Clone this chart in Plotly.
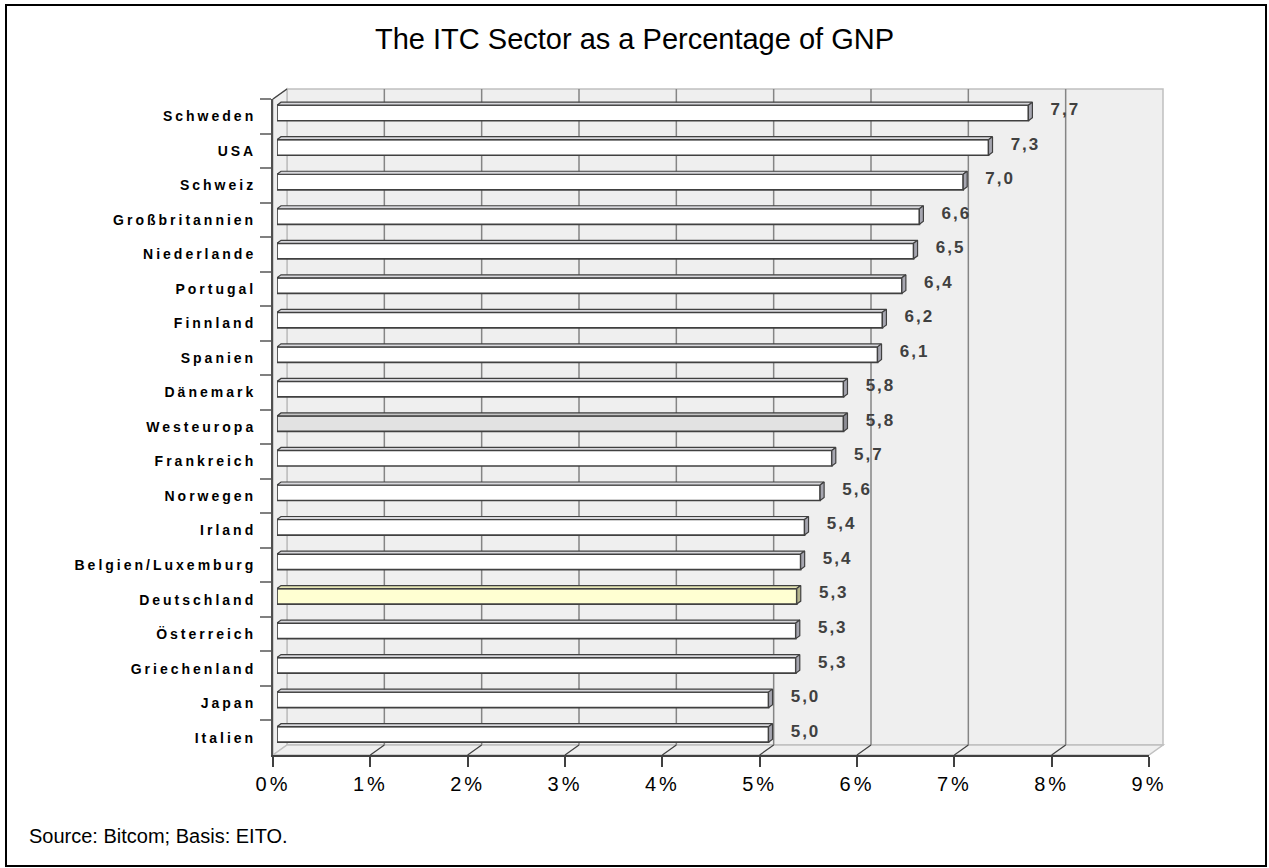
import plotly.graph_objects as go

# ---------------- data ----------------
categories = ["Schweden", "USA", "Schweiz", "Großbritannien", "Niederlande", "Portugal",
              "Finnland", "Spanien", "Dänemark", "Westeuropa", "Frankreich", "Norwegen",
              "Irland", "Belgien/Luxemburg", "Deutschland", "Österreich", "Griechenland",
              "Japan", "Italien"]
values = [7.72, 7.31, 7.05, 6.60, 6.54, 6.42, 6.22, 6.17, 5.82, 5.82, 5.70, 5.58,
          5.42, 5.38, 5.34, 5.33, 5.33, 5.05, 5.05]
value_labels = ["7,7", "7,3", "7,0", "6,6", "6,5", "6,4", "6,2", "6,1", "5,8", "5,8",
                "5,7", "5,6", "5,4", "5,4", "5,3", "5,3", "5,3", "5,0", "5,0"]
x_ticks = list(range(10))
x_tick_labels = [f"{k}%" for k in x_ticks]
title_text = "The ITC Sector as a Percentage of GNP"
source_text = "Source: Bitcom; Basis: EITO."

# ---------------- geometry / style ----------------
W, H = 1269, 868
FL, FR, FT, FB = 273, 1149, 99, 755      # front box
DX, DY = 14, 10                          # wall depth
BSX, BSY = 4, 3.3                        # bar front-plane shift
BDX, BDY = 4, 3                          # bar depth
FONT = "Liberation Sans, Arial, sans-serif"
WALL = "#efefef"
EDGE = "#c0c0c0"
GRID = "#858585"
DARK = "#404040"

def fx(p):
    return p / W

def fy(p):
    return 1 - p / H

n = len(categories)
pos = list(range(n))
xmax = x_ticks[-1]
ppu = (FR - FL) / xmax
ppc = (FB - FT) / n
half = 0.225

face_colors = []
top_colors = []
side_colors = []
for c in categories:
    if c == "Westeuropa":
        face_colors.append("#e2e2e2"); top_colors.append("#c4c4c4"); side_colors.append("#8e8e96")
    elif c == "Deutschland":
        face_colors.append("#ffffd2"); top_colors.append("#e6e6b4"); side_colors.append("#b4b48c")
    else:
        face_colors.append("#ffffff"); top_colors.append("#d8d8dc"); side_colors.append("#a6a6b0")

fig = go.Figure()

# invisible trace to establish the front category axis
fig.add_trace(go.Scatter(x=[0] * n, y=categories, mode="markers", marker=dict(opacity=0),
                         hoverinfo="skip", showlegend=False, xaxis="x", yaxis="y"))

# bars (front faces)
fig.add_trace(go.Bar(x=values, y=pos, orientation="h", width=2 * half,
                     marker=dict(color=face_colors, line=dict(color=DARK, width=1.7)),
                     hoverinfo="skip", showlegend=False, xaxis="x2", yaxis="y2"))

# 3D top and side faces
ddx = BDX / ppu
ddy = BDY / ppc
for v, p, tc, sc in zip(values, pos, top_colors, side_colors):
    top_x = [0, v, v + ddx, ddx, 0]
    top_y = [p - half, p - half, p - half - ddy, p - half - ddy, p - half]
    fig.add_trace(go.Scatter(x=top_x, y=top_y, mode="lines", fill="toself", fillcolor=tc,
                             line=dict(color=DARK, width=1.2), hoverinfo="skip",
                             showlegend=False, xaxis="x2", yaxis="y2"))
    side_x = [v, v, v + ddx, v + ddx, v]
    side_y = [p - half, p + half, p + half - ddy, p - half - ddy, p - half]
    fig.add_trace(go.Scatter(x=side_x, y=side_y, mode="lines", fill="toself", fillcolor=sc,
                             line=dict(color=DARK, width=1.2), hoverinfo="skip",
                             showlegend=False, xaxis="x2", yaxis="y2"))

# value labels
fig.add_trace(go.Scatter(x=[v + 0.38 for v in values], y=[p - 0.06 for p in pos],
                         mode="text", text=value_labels, textposition="middle center",
                         textfont=dict(family=FONT, size=17, color=DARK, weight="bold"),
                         hoverinfo="skip", showlegend=False, xaxis="x2", yaxis="y2"))

shapes = []
# walls
shapes.append(dict(type="rect", xref="paper", yref="paper", x0=fx(FL + DX), x1=fx(FR + DX),
                   y0=fy(FB - DY), y1=fy(FT - DY), fillcolor=WALL, line=dict(color=EDGE, width=1.5),
                   layer="below"))
shapes.append(dict(type="path", xref="paper", yref="paper",
                   path=f"M {fx(FL)} {fy(FT)} L {fx(FL+DX)} {fy(FT-DY)} L {fx(FL+DX)} {fy(FB-DY)} L {fx(FL)} {fy(FB)} Z",
                   fillcolor=WALL, line=dict(color=EDGE, width=1.5), layer="below"))
shapes.append(dict(type="path", xref="paper", yref="paper",
                   path=f"M {fx(FL)} {fy(FB)} L {fx(FL+DX)} {fy(FB-DY)} L {fx(FR+DX)} {fy(FB-DY)} L {fx(FR)} {fy(FB)} Z",
                   fillcolor=WALL, line=dict(color=EDGE, width=1.5), layer="below"))
# back-wall gridlines and floor diagonals
for k in x_ticks[1:-1]:
    xb = FL + DX + k * ppu
    xf = FL + k * ppu
    shapes.append(dict(type="line", xref="paper", yref="paper", x0=fx(xb), x1=fx(xb),
                       y0=fy(FB - DY), y1=fy(FT - DY), line=dict(color=GRID, width=1.5), layer="below"))
    shapes.append(dict(type="line", xref="paper", yref="paper", x0=fx(xf), x1=fx(xb),
                       y0=fy(FB), y1=fy(FB - DY), line=dict(color=DARK, width=1.2), layer="below"))
# top-left diagonal
shapes.append(dict(type="line", xref="paper", yref="paper", x0=fx(FL), x1=fx(FL + DX),
                   y0=fy(FT), y1=fy(FT - DY), line=dict(color=DARK, width=1.2), layer="below"))
# outer border
shapes.append(dict(type="rect", xref="paper", yref="paper", x0=fx(6), x1=fx(1266),
                   y0=fy(866), y1=fy(5), line=dict(color="#000000", width=2), layer="above"))

fig.update_layout(
    template="none",
    width=W, height=H, autosize=False,
    margin=dict(l=0, r=0, t=0, b=0, pad=0, autoexpand=False),
    paper_bgcolor="#ffffff", plot_bgcolor="rgba(0,0,0,0)",
    showlegend=False, shapes=shapes, hovermode=False,
    xaxis=dict(domain=[fx(FL), fx(FR)], range=[0, xmax], tickvals=x_ticks, ticktext=x_tick_labels,
               ticks="outside", ticklen=10, tickwidth=1.5, tickcolor=DARK, automargin=False,
               showline=True, linecolor=DARK, linewidth=2, showgrid=False, zeroline=False,
               tickfont=dict(family=FONT, size=20, color="#000000"), anchor="y", fixedrange=True),
    yaxis=dict(domain=[fy(FB), fy(FT)], type="category", categoryarray=categories,
               range=[n - 0.5, -0.5], ticks="outside", tickson="boundaries", ticklen=11,
               tickwidth=1.5, tickcolor="#808080", showline=True, linecolor="#505050", linewidth=2,
               showgrid=False, zeroline=False, automargin=False, ticklabelstandoff=12,
               tickfont=dict(family=FONT, size=14, color="#000000", weight="bold"),
               anchor="x", fixedrange=True),
    xaxis2=dict(domain=[fx(FL + BSX), fx(FR + BSX)], range=[0, xmax], visible=False,
                anchor="y2", fixedrange=True, automargin=False, showgrid=False, zeroline=False),
    yaxis2=dict(domain=[fy(FB - BSY), fy(FT - BSY)], range=[n - 0.5, -0.5], visible=False,
                anchor="x2", fixedrange=True, automargin=False, showgrid=False, zeroline=False),
    annotations=[
        dict(text=title_text, xref="paper", yref="paper", x=fx(635), y=fy(39),
             xanchor="center", yanchor="middle", showarrow=False,
             font=dict(family=FONT, size=29, color="#000000")),
        dict(text=source_text, xref="paper", yref="paper", x=fx(27), y=fy(836),
             xanchor="left", yanchor="middle", showarrow=False,
             font=dict(family=FONT, size=20, color="#000000")),
    ],
)

post_js = """
document.body.style.margin = '0';
document.body.style.overflow = 'hidden';
var gd = document.getElementById('{plot_id}');
gd.querySelectorAll('.ytick text').forEach(function(t){ t.style.letterSpacing = '3px'; });
gd.querySelectorAll('.xtick text').forEach(function(t){ t.style.letterSpacing = '3px'; });
gd.querySelectorAll('.textpoint text').forEach(function(t){ t.style.letterSpacing = '2px'; });
"""

fig.write_html("out.html", post_script=post_js, config={"displayModeBar": False})
